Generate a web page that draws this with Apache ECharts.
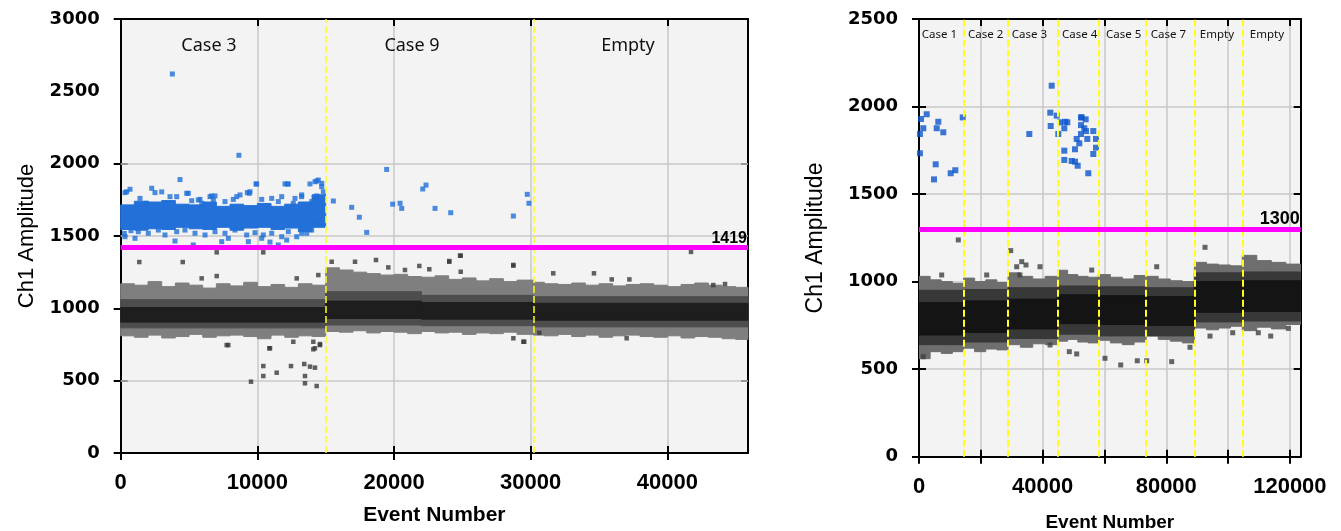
<!DOCTYPE html>
<html><head><meta charset="utf-8">
<script src="https://cdn.jsdelivr.net/npm/echarts@6/dist/echarts.min.js"></script>
<style>html,body{margin:0;padding:0;background:#fff}#c{width:1341px;height:531px}</style>
</head><body><div id="c"></div>
<script>
// ---------------- LEFT PANEL DATA ----------------
const leftCases = ['Case 3', 'Case 9', 'Empty'];
const leftCaseX = [6460, 21315, 37120];
const leftCaseY = 2817;
const leftBoundaries = [15000, 30200];
const leftThreshold = 1419;
const leftYGrid = [500, 1000, 1500, 2000];
// droplet cloud of negatives: [x0, x1, low, high]
const leftOuter = [
 [0,1000,810,1170],[1000,2000,800,1160],[2000,3000,815,1185],[3000,4000,795,1150],[4000,5000,805,1175],
 [5000,6000,820,1160],[6000,7000,800,1140],[7000,8000,810,1170],[8000,9000,815,1155],[9000,10000,805,1180],
 [10000,11000,790,1150],[11000,12000,815,1165],[12000,13000,800,1145],[13000,14000,810,1170],[14000,15000,805,1160],
 [15000,16000,840,1280],[16000,17000,835,1265],[17000,18000,845,1250],[18000,19000,830,1240],[19000,20000,840,1230],
 [20000,21000,835,1235],[21000,22000,825,1220],[22000,23000,840,1215],[23000,24000,830,1225],[24000,25000,835,1200],
 [25000,26000,820,1210],[26000,27000,830,1190],[27000,28000,825,1205],[28000,29000,835,1185],[29000,30200,820,1195],
 [30200,31000,815,1180],[31000,32000,810,1170],[32000,33000,820,1165],[33000,34000,805,1175],[34000,35000,815,1160],
 [35000,36000,800,1170],[36000,37000,810,1155],[37000,38000,815,1165],[38000,39000,805,1170],[39000,40000,800,1160],
 [40000,41000,810,1150],[41000,42000,795,1165],[42000,43000,805,1175],[43000,44000,800,1160],[44000,45000,790,1150],
 [45000,45900,785,1145]
];
// [x0, x1, midLow, midHigh, coreLow, coreHigh]
const leftInner = [
 [0,15000,865,1060,905,1005],
 [15000,22000,885,1115,930,1050],
 [22000,30200,880,1090,925,1040],
 [30200,45900,872,1080,918,1035]
];
// dense positive cloud: [x0, x1, low, high]
const leftBlueCore = [
 [0,1000,1545,1715],[1000,2000,1540,1740],[2000,3000,1550,1735],[3000,4000,1545,1745],[4000,5000,1560,1720],
 [5000,6000,1550,1715],[6000,7000,1545,1735],[7000,8000,1560,1705],[8000,9000,1540,1720],[9000,10000,1555,1710],
 [10000,11000,1560,1725],[11000,12000,1545,1705],[12000,13000,1555,1720],[13000,14000,1530,1735],[14000,15000,1560,1785]
];
const leftBlue = [
 [3780,2620],[8650,2058],[4340,1890],[9900,1860],[12020,1860],[12190,1860],[13850,1860],[14340,1880],[14710,1864],
 [680,1823],[315,1800],[2270,1830],[2510,1800],[3000,1805],[4950,1795],[9265,1800],[9410,1795],[8490,1772],
 [5680,1749],[6535,1772],[6780,1749],[11780,1772],[12630,1726],[13240,1772],[440,1806],[3607,1772],[4097,1772],
 [4829,1795],[5195,1744],[5802,1753],[6658,1777],[6900,1777],[7631,1738],[8240,1753],[8729,1784],[9461,1806],
 [9951,1859],[10317,1753],[11048,1760],[12265,1859],[11531,1738],[12753,1760],[13243,1784],[14217,1875],
 [14460,1887],[14707,1841],[14827,1806],[14341,1777],[13975,1738],[1412,1760],[1902,1726],[5927,1726],
 [265,1518],[753,1537],[1290,1530],[2020,1519],[2753,1541],[3240,1507],[4097,1530],[4705,1541],[5437,1519],
 [6170,1507],[6900,1530],[7630,1519],[8360,1541],[9219,1507],[9827,1523],[10437,1507],[11048,1519],[11780,1495],
 [12265,1530],[12880,1495],[13243,1519],[13610,1519],[13975,1541],[14215,1588],[5310,1438],[7875,1484],
 [9340,1461],[10315,1484],[11530,1438],[12145,1472],[315,1495],[7390,1461],[3973,1465],[1046,1484],[10924,1458],
 [15560,1742],[16900,1698],[17460,1630],[18000,1525],[19460,1960],[19900,1720],[20440,1726],[20560,1691],
 [22100,1825],[22340,1852],[23000,1691],[24150,1661],[28730,1638],[29750,1788],[29870,1726]
];
const leftGray = [
 [1360,1320],[4540,1320],[7025,1387],[10430,1387],[41730,1390],[24830,1364],[24040,1322],[28730,1295],
 [7025,1223],[5925,1207],[12880,1207],[14460,1230],[7875,746],[10925,724],[12630,769],[14215,724],[14095,769],
 [10435,601],[12460,601],[13430,615],[13850,597],[14215,590],[10435,532],[11415,555],[13485,532],[9535,493],
 [13485,482],[14340,463],[7755,746],[10875,724],[14095,717],[14580,753],
 [15440,1322],[17145,1322],[18680,1334],[19580,1283],[20800,1265],[21850,1293],[22580,1270],[24040,1327],
 [24880,1364],[24880,1253],[28730,1300],[29460,769],[14580,746],[29530,769],[28730,793],[37020,793],[30630,831],
 [31650,1242],[34630,1242],[35930,1200],[37220,1200],[43360,1161],[44220,1168]
];

// ---------------- RIGHT PANEL DATA ----------------
const rightCases = ['Case 1','Case 2','Case 3','Case 4','Case 5','Case 7','Empty','Empty'];
const rightCaseX = [870, 15850, 29990, 46270, 60500, 74970, 90840, 107020];
const rightCaseY = 2413;
const rightBoundaries = [14400, 28800, 44800, 58000, 73500, 89100, 104600];
const rightThreshold = 1300;
const rightOuter = [
 [0,3600,560,1030],[3600,7200,600,1010],[7200,10800,590,1000],[10800,14400,600,990],
 [14400,18000,620,1020],[18000,21600,600,1000],[21600,25200,615,1010],[25200,28800,610,995],
 [28800,32800,640,1050],[32800,36800,625,1030],[36800,40800,645,1015],[40800,44800,640,1030],
 [44800,48100,660,1065],[48100,51400,670,1040],[51400,54700,655,1030],[54700,58000,650,1025],
 [58000,61900,665,1040],[61900,65800,650,1025],[65800,69600,640,1015],[69600,73500,655,1035],
 [73500,77400,690,1030],[77400,81300,670,1015],[81300,85200,660,1005],[85200,89100,650,1000],
 [89100,93000,735,1110],[93000,96900,725,1100],[96900,100800,735,1095],[100800,104600,745,1090],
 [104600,109300,720,1150],[109300,114000,740,1120],[114000,118700,730,1110],[118700,123500,755,1100]
];
const rightInner = [
 [0,14400,640,950,695,880],[14400,28800,655,955,710,890],[28800,44800,675,965,730,900],
 [44800,58000,700,975,760,925],[58000,73500,690,970,755,920],[73500,89100,690,965,750,915],
 [89100,104600,770,1050,825,1000],[104600,123500,775,1055,830,1005]
];
const rightBlue = [
 [42930,2119],[2490,1956],[650,1929],[1390,1876],[6240,1913],[5730,1876],[7860,1853],[300,1843],[300,1733],
 [5400,1670],[4850,1584],[10250,1619],[11750,1636],[14140,1938],[35690,1843],[42480,1965],[44550,1948],
 [42610,1889],[45620,1910],[47980,1910],[47010,1876],[45070,1843],[52420,1938],[53930,1927],[52420,1894],
 [53480,1876],[54030,1860],[56400,1860],[52420,1843],[51020,1815],[54450,1815],[57270,1815],[51860,1790],
 [47010,1748],[50470,1756],[57270,1765],[56400,1729],[47010,1695],[49400,1689],[50470,1685],[51340,1662],
 [54780,1619],[47240,1913],[52640,1938]
];
const rightGray = [
 [12720,1238],[29670,1177],[33230,1114],[31610,1085],[39150,1085],[92540,1196],[76910,1085],[7340,1038],
 [21900,1038],[32680,1038],[34620,1095],[42390,638],[1390,571],[55880,1066],[48630,600],[51020,587],
 [60180,562],[65260,524],[70630,548],[73670,548],[81760,543],[87680,625],[94150,689],[101500,708],
 [109780,708],[113790,689],[119490,733]
];

// ---------------- HELPERS ----------------
function bandSeries(data, xi, yi, color, z) {
  return {
    type: 'custom', xAxisIndex: xi, yAxisIndex: yi, clip: true, silent: true, z: z,
    dimensions: ['x0','x1','lo','hi'], encode: {x: [0,1], y: [2,3]},
    data: data,
    renderItem: function (params, api) {
      const a = api.coord([api.value(0), api.value(3)]);
      const b = api.coord([api.value(1), api.value(2)]);
      return {type: 'rect', shape: {x: a[0], y: a[1], width: b[0]-a[0], height: b[1]-a[1]},
        style: {fill: color, stroke: color, lineWidth: 1}};
    }
  };
}
function textSeries(names, xs, y, xi, yi, font, align) {
  return {
    type: 'custom', xAxisIndex: xi, yAxisIndex: yi, silent: true, z: 6,
    data: names.map((n, i) => [xs[i], y, i]),
    renderItem: function (params, api) {
      const p = api.coord([api.value(0), api.value(1)]);
      return {type: 'text', x: p[0], y: p[1],
        style: {text: names[params.dataIndex], fill: '#111', font: font, align: align, verticalAlign: 'middle'}};
    }
  };
}
const axisBlack = {show: true, onZero: false, lineStyle: {color: '#000', width: 2}};
const tickStyle = {color: '#000', width: 2};
const gridColor = '#c8c8c8';

function xAxes(gi, max, interval, labelFmt, nameGap, nameSize) {
  return [
    {type: 'value', gridIndex: gi, min: 0, max: max, interval: interval, position: 'bottom',
     axisLine: axisBlack, axisTick: {show: true, inside: false, length: 7, lineStyle: tickStyle},
     axisLabel: {formatter: labelFmt, showMaxLabel: false, fontFamily: 'Liberation Sans', fontWeight: 'bold', fontSize: 22, color: '#000', margin: 19},
     splitLine: {show: true, lineStyle: {color: gridColor, width: 1.5}},
     name: 'Event Number', nameLocation: 'middle', nameGap: nameGap,
     nameTextStyle: {fontFamily: 'Liberation Sans', fontWeight: 'bold', fontSize: nameSize, color: '#000'}},
    {type: 'value', gridIndex: gi, min: 0, max: max, interval: interval, position: 'bottom',
     axisLine: {show: false}, axisTick: {show: true, inside: true, length: 7, lineStyle: tickStyle},
     axisLabel: {show: false}, splitLine: {show: false}},
    {type: 'value', gridIndex: gi, min: 0, max: max, interval: interval, position: 'top',
     axisLine: axisBlack, axisTick: {show: true, inside: true, length: 7, lineStyle: tickStyle},
     axisLabel: {show: false}, splitLine: {show: false}}
  ];
}
function yAxes(gi, max, tickVals, rightTickVals, showSplit) {
  const lbl = {fontFamily: 'DejaVu Sans', fontWeight: 'bold', fontSize: 18, color: '#000', margin: 21, formatter: v => String(v)};
  return [
    {type: 'value', gridIndex: gi, min: 0, max: max, interval: 500, position: 'left',
     axisLine: axisBlack, axisTick: {show: true, inside: false, length: 7, lineStyle: tickStyle, customValues: tickVals},
     axisLabel: lbl, splitLine: {show: showSplit, lineStyle: {color: gridColor, width: 1.5}}},
    {type: 'value', gridIndex: gi, min: 0, max: max, interval: 500, position: 'left',
     axisLine: {show: false}, axisTick: {show: true, inside: true, length: 7, lineStyle: tickStyle, customValues: tickVals},
     axisLabel: {show: false}, splitLine: {show: false}},
    {type: 'value', gridIndex: gi, min: 0, max: max, interval: 500, position: 'right',
     axisLine: axisBlack, axisTick: {show: true, inside: true, length: 7, lineStyle: tickStyle, customValues: rightTickVals},
     axisLabel: {show: false}, splitLine: {show: false}}
  ];
}
function overlayLines(boundaries, threshold, labelSize, dashWidth) {
  return {
    silent: true, symbol: 'none', z: 5, animation: false,
    data: boundaries.map(b => ({xAxis: b, label: {show: false},
      lineStyle: {color: '#ffff1a', width: dashWidth, type: [7, 3]}})).concat([
      {yAxis: threshold, lineStyle: {color: '#ff00ff', width: 5, type: 'solid'},
       label: {show: true, position: 'insideEndTop', formatter: String(threshold), distance: 1,
               fontFamily: 'Liberation Sans', fontWeight: 'bold', fontSize: labelSize, color: '#000'}}])
  };
}

const chart = echarts.init(document.getElementById('c'), null, {renderer: 'canvas'});
chart.setOption({
  animation: false,
  backgroundColor: '#ffffff',
  grid: [
    {left: 120.7, top: 19, width: 627.3, height: 434, show: true, backgroundColor: '#f3f3f3', borderWidth: 0, outerBoundsMode: 'none'},
    {left: 919, top: 19, width: 381.7, height: 437.7, show: true, backgroundColor: '#f3f3f3', borderWidth: 0, outerBoundsMode: 'none'}
  ],
  xAxis: xAxes(0, 45900, 10000, v => String(v), 52, 21)
    .concat(xAxes(1, 123500, 20000, v => (v % 40000 === 0 ? String(v) : ''), 57, 19)),
  yAxis: yAxes(0, 3000, [0, 500, 1000, 1500, 2000, 3000], [500, 1000, 1500, 2000], false)
    .concat(yAxes(1, 2500, null, null, true)),
  graphic: [
    {type: 'text', x: 27, y: 236, rotation: Math.PI / 2,
     style: {text: 'Ch1 Amplitude', font: '22px "Liberation Sans"', fill: '#000', align: 'center', verticalAlign: 'middle'}},
    {type: 'text', x: 816, y: 238, rotation: Math.PI / 2,
     style: {text: 'Ch1 Amplitude', font: '23px "Liberation Sans"', fill: '#000', align: 'center', verticalAlign: 'middle'}}
  ],
  series: [
    // left panel
    {type: 'scatter', xAxisIndex: 0, yAxisIndex: 0, silent: true, data: [], z: 1,
     markLine: {silent: true, symbol: 'none', z: 1, animation: false, label: {show: false},
       lineStyle: {color: gridColor, width: 1.5, type: 'solid'}, data: leftYGrid.map(v => ({yAxis: v}))}},
    bandSeries(leftOuter, 0, 0, '#7f7f7f', 2),
    bandSeries(leftInner.map(r => [r[0], r[1], r[2], r[3]]), 0, 0, '#4d4d4d', 2),
    bandSeries(leftInner.map(r => [r[0], r[1], r[4], r[5]]), 0, 0, '#1e1e1e', 2),
    {type: 'scatter', xAxisIndex: 0, yAxisIndex: 0, silent: true, symbol: 'rect', symbolSize: 4.5,
     itemStyle: {color: '#3a3a3a'}, data: leftGray, z: 3},
    bandSeries(leftBlueCore, 0, 0, '#2371d8', 3),
    {type: 'scatter', xAxisIndex: 0, yAxisIndex: 0, silent: true, symbol: 'rect', symbolSize: 5,
     itemStyle: {color: '#1f6fd8'}, data: leftBlue, z: 4,
     markLine: overlayLines(leftBoundaries, leftThreshold, 16, 1.5)},
    textSeries(leftCases, leftCaseX, leftCaseY, 0, 0, '18px "Noto Sans"', 'center'),
    // right panel
    bandSeries(rightOuter, 3, 3, '#6e6e6e', 2),
    bandSeries(rightInner.map(r => [r[0], r[1], r[2], r[3]]), 3, 3, '#383838', 2),
    bandSeries(rightInner.map(r => [r[0], r[1], r[4], r[5]]), 3, 3, '#141414', 2),
    {type: 'scatter', xAxisIndex: 3, yAxisIndex: 3, silent: true, symbol: 'rect', symbolSize: 5,
     itemStyle: {color: '#404040'}, data: rightGray, z: 3},
    {type: 'scatter', xAxisIndex: 3, yAxisIndex: 3, silent: true, symbol: 'rect', symbolSize: 6,
     itemStyle: {color: '#0b55cc'}, data: rightBlue, z: 4,
     markLine: overlayLines(rightBoundaries, rightThreshold, 18, 2)},
    textSeries(rightCases, rightCaseX, rightCaseY, 3, 3, '11.5px "Noto Sans"', 'left')
  ]
});
</script>
</body></html>
